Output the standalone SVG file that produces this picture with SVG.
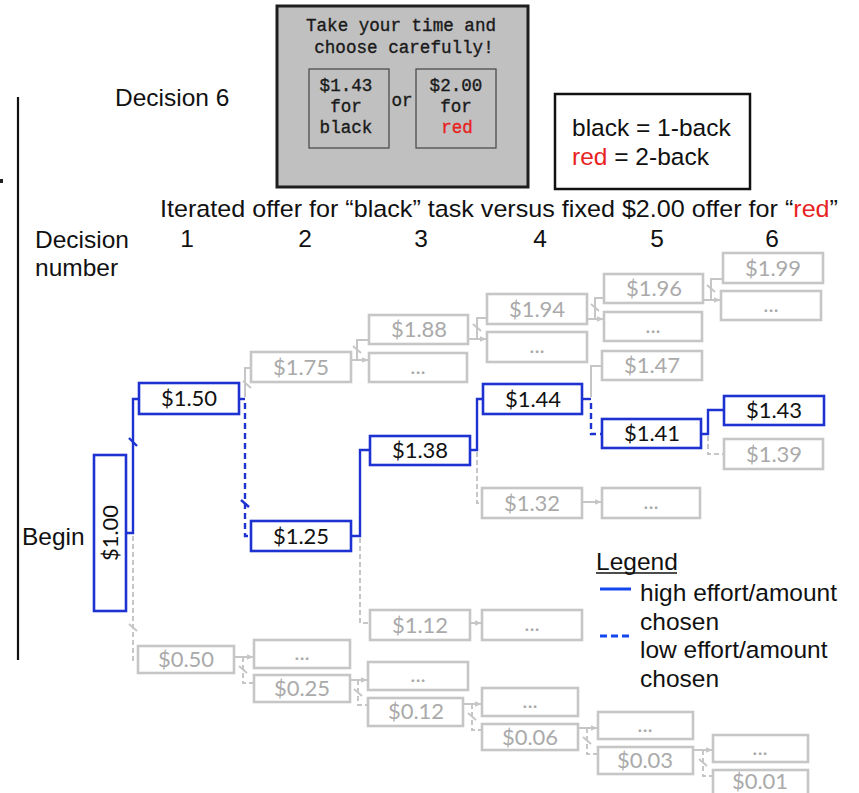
<svg xmlns="http://www.w3.org/2000/svg" width="859" height="793" viewBox="0 0 859 793">
<defs>
<style>
.lbl{font-family:"Liberation Sans",Arial,sans-serif;font-size:24.5px;fill:#111}
.mono{font-family:"Liberation Mono","Courier New",monospace;font-size:17.6px;fill:#1a1a1a;stroke:#1a1a1a;stroke-width:0.35;text-anchor:middle}
.red{fill:#e8231f}
.mono.red{stroke:#e8231f}
.on rect{fill:#fff;stroke:#1e32d2;stroke-width:2.6}
.off rect{fill:#fff;stroke:#c6c6c6;stroke-width:2.6}
.on text,.off text{font-family:Lato,"Open Sans",sans-serif;font-size:22px;text-anchor:middle}
.on text{fill:#111}
.off text{fill:#aaaaaa}
.hi{fill:none;stroke:#1e32d2;stroke-width:2.4}
.lo{fill:none;stroke:#1e32d2;stroke-width:2.4;stroke-dasharray:6 4}
.g{fill:none;stroke:#c6c6c6;stroke-width:2}
.gd{fill:none;stroke:#c6c6c6;stroke-width:2;stroke-dasharray:5 3}
.arr{fill:none;stroke:#c6c6c6;stroke-width:2;marker-end:url(#ah)}
</style>
<marker id="ah" viewBox="0 0 10 10" refX="9" refY="5" markerUnits="userSpaceOnUse" markerWidth="7" markerHeight="7" orient="auto">
<path d="M0,1 L10,5 L0,9z" fill="#c6c6c6"/>
</marker>
</defs>

<rect width="859" height="793" fill="#fff"/>

<!-- task screen -->
<g id="screen">
<rect x="277" y="6" width="251" height="181" fill="#c0c0c0" stroke="#1e1e1e" stroke-width="3"/>
<text class="mono" x="401" y="31">Take your time and</text>
<text class="mono" x="404" y="53">choose carefully!</text>
<rect x="309" y="69" width="80" height="79" fill="none" stroke="#444" stroke-width="1.2"/>
<rect x="416" y="69" width="80" height="79" fill="none" stroke="#444" stroke-width="1.2"/>
<text class="mono" x="346" y="91">$1.43</text>
<text class="mono" x="346" y="112">for</text>
<text class="mono" x="346" y="133">black</text>
<text class="mono" x="402" y="106">or</text>
<text class="mono" x="456" y="91">$2.00</text>
<text class="mono" x="456" y="112">for</text>
<text class="mono red" x="457" y="133">red</text>
</g>

<g id="key">
<rect x="555" y="94" width="195" height="95" fill="#fff" stroke="#111" stroke-width="2.5"/>
<text class="lbl" x="572" y="136">black = 1-back</text>
<text class="lbl" x="572" y="165"><tspan class="red">red</tspan> = 2-back</text>
</g>

<!-- headings -->
<line x1="18" y1="97" x2="18" y2="660" stroke="#111" stroke-width="2.2"/>
<rect x="0" y="179" width="3" height="4" fill="#222"/>
<text class="lbl" x="115" y="106">Decision 6</text>
<text class="lbl" x="160" y="217" textLength="678" lengthAdjust="spacingAndGlyphs">Iterated offer for “black” task versus fixed $2.00 offer for “<tspan class="red">red</tspan>”</text>
<text class="lbl" x="35" y="248">Decision</text>
<text class="lbl" x="35" y="276">number</text>
<g class="lbl" text-anchor="middle">
<text x="187" y="247">1</text>
<text x="305" y="247">2</text>
<text x="421" y="247">3</text>
<text x="540" y="247">4</text>
<text x="657" y="247">5</text>
<text x="772" y="247">6</text>
</g>
<text class="lbl" x="22" y="545">Begin</text>

<!-- connectors -->
<g id="connectors">
<!-- chosen path -->
<path class="hi" d="M126,533 H133 V399 H139"/>
<path class="hi" d="M129,438 L137,446"/>
<path class="hi" d="M239,399 H245"/>
<path class="lo" d="M245,403 V536 H251"/>
<path class="hi" d="M241,500 L249,507"/>
<path class="hi" d="M351,536 H360 V450 H370"/>
<path class="hi" d="M470,450 H477 V399 H483"/>
<path class="hi" d="M582,399 H591"/>
<path class="lo" d="M591,403 V434 H602"/>
<path class="hi" d="M701,434 H708 V410 H724"/>

<!-- branches not taken, upper -->
<path class="g" d="M245,397 V368 H251"/>
<path class="g" d="M243,381 L251,388"/>
<path class="arr" d="M351,360 H368"/>
<path class="g" d="M357,360 V340 H369"/>
<path class="g" d="M353,346 L361,353"/>
<path class="arr" d="M468,339 H486"/>
<path class="g" d="M477,339 V318 H487"/>
<path class="g" d="M473,324 L481,331"/>
<path class="arr" d="M587,319 H603"/>
<path class="g" d="M595,319 V298 H604"/>
<path class="g" d="M591,304 L599,311"/>
<path class="arr" d="M703,300 H720"/>
<path class="g" d="M711,300 V279 H723"/>
<path class="g" d="M707,285 L715,292"/>
<path class="g" d="M591,397 V366 H602"/>

<!-- branches not taken, lower -->
<path class="gd" d="M708,436 V454 H724"/>
<path class="gd" d="M477,452 V503 H482"/>
<path class="arr" d="M582,502 H601"/>
<path class="gd" d="M360,538 V623 H370"/>
<path class="arr" d="M470,623 H481"/>
<path class="gd" d="M133,536 V660 H138"/>
<path class="g" d="M129,624 L137,631"/>
<path class="arr" d="M234,657 H253"/>
<path class="gd" d="M243,657 V683 H254"/>
<path class="g" d="M239,666 L247,673"/>
<path class="arr" d="M350,680 H367"/>
<path class="gd" d="M358,680 V705 H368"/>
<path class="g" d="M354,689 L362,696"/>
<path class="arr" d="M463,704 H481"/>
<path class="gd" d="M472,704 V730 H482"/>
<path class="g" d="M468,713 L476,720"/>
<path class="arr" d="M578,728 H597"/>
<path class="gd" d="M587,728 V754 H598"/>
<path class="g" d="M583,737 L591,744"/>
<path class="arr" d="M693,750 H712"/>
<path class="gd" d="M703,750 V776 H713"/>
<path class="g" d="M699,759 L707,766"/>
</g>

<!-- chosen offers -->
<g id="n100" class="on"><rect x="94" y="455" width="32" height="156"/><text transform="translate(110,533) rotate(-90)" x="0" y="8">$1.00</text></g>
<g id="n150" class="on"><rect x="139" y="383" width="100" height="31"/><text x="189" y="406">$1.50</text></g>
<g id="n125" class="on"><rect x="251" y="521" width="100" height="30"/><text x="301" y="544">$1.25</text></g>
<g id="n138" class="on"><rect x="370" y="436" width="100" height="29"/><text x="420" y="458">$1.38</text></g>
<g id="n144" class="on"><rect x="483" y="384" width="99" height="30"/><text x="533" y="407">$1.44</text></g>
<g id="n141" class="on"><rect x="602" y="419" width="99" height="29"/><text x="652" y="441">$1.41</text></g>
<g id="n143" class="on"><rect x="724" y="396" width="100" height="29"/><text x="774" y="418">$1.43</text></g>

<!-- other offers -->
<g id="n175" class="off"><rect x="251" y="352" width="100" height="30"/><text x="301" y="375">$1.75</text></g>
<g id="n188" class="off"><rect x="369" y="315" width="99" height="29"/><text x="419" y="337">$1.88</text></g>
<g id="e1" class="off"><rect x="369" y="353" width="98" height="29"/><text x="418" y="374">...</text></g>
<g id="n194" class="off"><rect x="487" y="294" width="100" height="30"/><text x="537" y="317">$1.94</text></g>
<g id="e2" class="off"><rect x="487" y="332" width="100" height="30"/><text x="537" y="353">...</text></g>
<g id="n196" class="off"><rect x="604" y="274" width="99" height="29"/><text x="654" y="296">$1.96</text></g>
<g id="e3" class="off"><rect x="604" y="312" width="98" height="29"/><text x="653" y="333">...</text></g>
<g id="n199" class="off"><rect x="723" y="253" width="100" height="30"/><text x="773" y="276">$1.99</text></g>
<g id="e4" class="off"><rect x="721" y="291" width="100" height="29"/><text x="771" y="312">...</text></g>
<g id="n147" class="off"><rect x="602" y="351" width="100" height="29"/><text x="652" y="373">$1.47</text></g>
<g id="n139" class="off"><rect x="724" y="439" width="99" height="30"/><text x="774" y="462">$1.39</text></g>
<g id="n132" class="off"><rect x="482" y="488" width="100" height="30"/><text x="532" y="511">$1.32</text></g>
<g id="e5" class="off"><rect x="602" y="488" width="98" height="30"/><text x="651" y="509">...</text></g>
<g id="n112" class="off"><rect x="370" y="610" width="100" height="30"/><text x="420" y="633">$1.12</text></g>
<g id="e6" class="off"><rect x="482" y="610" width="100" height="30"/><text x="532" y="631">...</text></g>
<g id="n050" class="off"><rect x="138" y="646" width="96" height="27"/><text x="186" y="667">$0.50</text></g>
<g id="e7" class="off"><rect x="254" y="640" width="96" height="28"/><text x="302" y="660">...</text></g>
<g id="n025" class="off"><rect x="254" y="675" width="96" height="27"/><text x="302" y="696">$0.25</text></g>
<g id="e8" class="off"><rect x="368" y="662" width="100" height="28"/><text x="418" y="682">...</text></g>
<g id="n012" class="off"><rect x="368" y="698" width="95" height="28"/><text x="416" y="719">$0.12</text></g>
<g id="e9" class="off"><rect x="482" y="688" width="96" height="28"/><text x="530" y="708">...</text></g>
<g id="n006" class="off"><rect x="482" y="724" width="96" height="26"/><text x="530" y="745">$0.06</text></g>
<g id="e10" class="off"><rect x="598" y="712" width="95" height="27"/><text x="645" y="732">...</text></g>
<g id="n003" class="off"><rect x="598" y="747" width="95" height="27"/><text x="645" y="768">$0.03</text></g>
<g id="e11" class="off"><rect x="713" y="735" width="95" height="27"/><text x="760" y="755">...</text></g>
<g id="n001" class="off"><rect x="713" y="770" width="95" height="27"/><text x="760" y="789">$0.01</text></g>

<!-- legend -->
<g id="legend">
<text class="lbl" x="596" y="570">Legend</text>
<line x1="596" y1="573" x2="677" y2="573" stroke="#111" stroke-width="1.6"/>
<line x1="600" y1="589" x2="631" y2="589" stroke="#1446f0" stroke-width="3"/>
<text class="lbl" x="640" y="601">high effort/amount</text>
<text class="lbl" x="640" y="630">chosen</text>
<line x1="600" y1="636" x2="632" y2="636" stroke="#1446f0" stroke-width="3" stroke-dasharray="7 4"/>
<text class="lbl" x="640" y="658">low effort/amount</text>
<text class="lbl" x="640" y="687">chosen</text>
</g>
</svg>
